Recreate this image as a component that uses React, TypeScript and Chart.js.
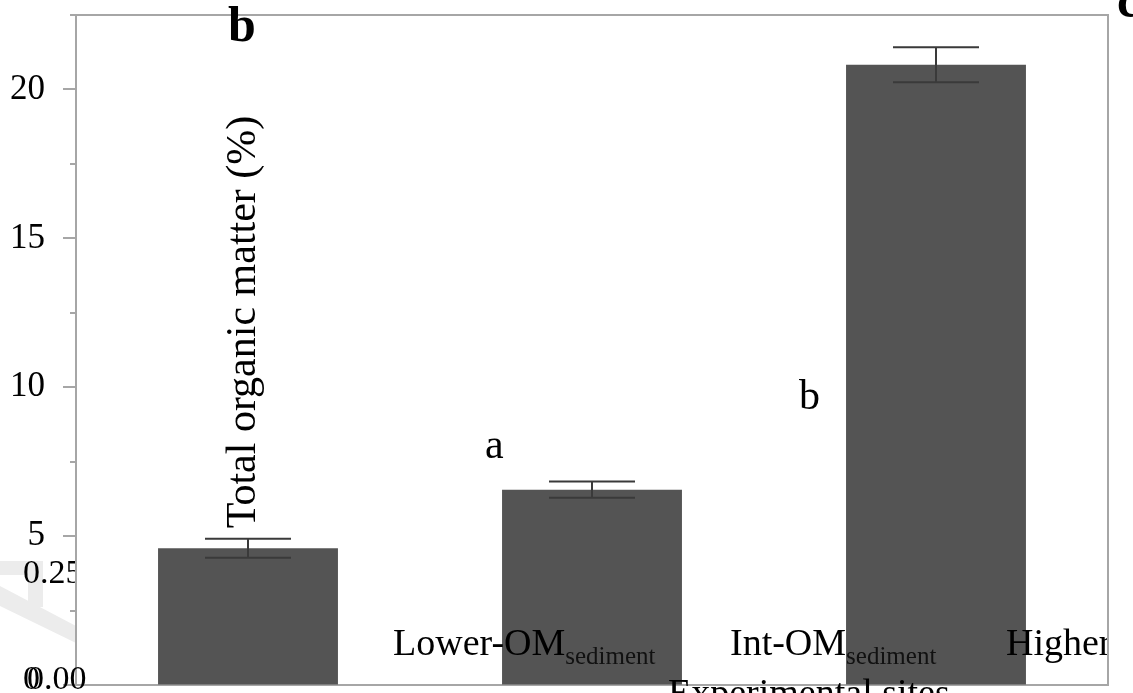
import React, { useEffect, useRef } from 'react';
import { Chart, registerables } from 'chart.js';

Chart.register(...registerables);

// ---- data ----
const categories = ['Lower-OM', 'Int-OM', 'Higher-OM'];
const categorySubscripts = ['sediment', 'sediment', 'sediment'];
const meanValues = [4.59, 6.56, 20.83];
const errorValues = [0.32, 0.27, 0.59];
const significanceLetters = ['b', 'a', 'b', 'c'];
const yAxisTitle = 'Total organic matter (%)';
const xAxisTitle = 'Experimental sites';
const strayTickLabels = ['0.25', '0.00'];

const SERIF = '"Liberation Serif", "Times New Roman", serif';
const AXIS_GRAY = '#a6a6a6';

const overlayPlugin = {
  id: 'overlay',
  beforeDraw(chart: any) {
    const ctx = chart.ctx;
    const left = chart.chartArea.left;
    ctx.save();
    ctx.beginPath();
    ctx.rect(0, 0, left, chart.height);
    ctx.clip();
    ctx.fillStyle = '#ececec';
    ctx.fillRect(0, 561, 43, 14);
    ctx.fillRect(28, 561, 15, 46);
    ctx.beginPath();
    ctx.moveTo(0, 586);
    ctx.lineTo(left, 626);
    ctx.lineTo(left, 643);
    ctx.lineTo(0, 606);
    ctx.closePath();
    ctx.fill();
    ctx.restore();
  },
  afterDatasetsDraw(chart: any) {
    const ctx = chart.ctx;
    const y = chart.scales.y;
    const meta = chart.getDatasetMeta(0);
    ctx.save();
    ctx.strokeStyle = '#3a3a3a';
    ctx.lineWidth = 2;
    meta.data.forEach((bar: any, i: number) => {
      const x = bar.x;
      const top = y.getPixelForValue(meanValues[i] + errorValues[i]);
      const bot = y.getPixelForValue(meanValues[i] - errorValues[i]);
      const cap = 43;
      ctx.beginPath();
      ctx.moveTo(x, top);
      ctx.lineTo(x, bot);
      ctx.moveTo(x - cap, top);
      ctx.lineTo(x + cap, top);
      ctx.moveTo(x - cap, bot);
      ctx.lineTo(x + cap, bot);
      ctx.stroke();
    });
    ctx.restore();
  },
  afterDraw(chart: any) {
    const ctx = chart.ctx;
    const { left, right, top, bottom } = chart.chartArea;
    ctx.save();
    // frame top & right
    ctx.strokeStyle = AXIS_GRAY;
    ctx.lineWidth = 2;
    ctx.beginPath();
    ctx.moveTo(left, top);
    ctx.lineTo(right, top);
    ctx.lineTo(right, bottom);
    ctx.stroke();

    // y tick marks (major & minor)
    const y = chart.scales.y;
    y.ticks.forEach((t: any) => {
      const py = Math.round(y.getPixelForValue(t.value));
      const len = t.value % 5 === 0 ? 13 : 6;
      ctx.beginPath();
      ctx.moveTo(left - len, py);
      ctx.lineTo(left, py);
      ctx.stroke();
    });

    ctx.fillStyle = '#000';
    ctx.textBaseline = 'alphabetic';
    ctx.textAlign = 'left';

    // significance letters
    ctx.font = `bold 50px ${SERIF}`;
    ctx.fillText(significanceLetters[0], 228, 41);
    ctx.font = `42px ${SERIF}`;
    ctx.fillText(significanceLetters[1], 485, 458);
    ctx.fillText(significanceLetters[2], 799, 409);
    ctx.font = `bold 50px ${SERIF}`;
    ctx.fillText(significanceLetters[3], 1117, 17);

    // category labels (clipped at plot right edge)
    const starts = [393, 730, 1006];
    ctx.save();
    ctx.beginPath();
    ctx.rect(0, 0, right - 1, chart.height);
    ctx.clip();
    categories.forEach((c, i) => {
      ctx.font = `38px ${SERIF}`;
      ctx.fillStyle = '#000';
      ctx.fillText(c, starts[i], 655);
      const w = ctx.measureText(c).width;
      ctx.font = `25px ${SERIF}`;
      ctx.fillStyle = '#111';
      ctx.fillText(categorySubscripts[i], starts[i] + w, 664);
    });
    ctx.restore();

    // y axis title
    ctx.save();
    ctx.font = `42px ${SERIF}`;
    ctx.fillStyle = '#000';
    ctx.translate(255, 322);
    ctx.rotate(-Math.PI / 2);
    ctx.textAlign = 'center';
    ctx.fillText(yAxisTitle, 0, 0);
    ctx.restore();

    // x axis title
    ctx.font = `38px ${SERIF}`;
    ctx.fillStyle = '#000';
    ctx.fillText(xAxisTitle, 668, 705);

    // zero tick label (offset left in the original) and stray tick labels
    ctx.font = `34px ${SERIF}`;
    ctx.fillText(String(y.ticks[0].value), 23, 689);
    ctx.save();
    ctx.beginPath();
    ctx.rect(0, 0, left - 1, chart.height);
    ctx.clip();
    ctx.fillText(strayTickLabels[0], 23, 583);
    ctx.restore();
    ctx.fillText(strayTickLabels[1], 27, 689);

    ctx.restore();
  },
};

export default function App() {
  const ref = useRef<HTMLCanvasElement | null>(null);
  useEffect(() => {
    document.body.style.margin = '0';
    const chart = new Chart(ref.current as HTMLCanvasElement, {
      type: 'bar',
      data: {
        labels: categories.map((c, i) => `${c} ${categorySubscripts[i]}`),
        datasets: [
          {
            data: meanValues,
            backgroundColor: '#545454',
            borderWidth: 0,
            categoryPercentage: 1,
            barPercentage: 0.523,
          },
        ],
      },
      options: {
        animation: false,
        responsive: true,
        maintainAspectRatio: false,
        layout: { padding: { left: 0, right: 25, top: 15, bottom: 0 }, autoPadding: false } as any,
        plugins: { legend: { display: false }, tooltip: { enabled: false } },
        scales: {
          x: {
            ticks: { display: false },
            grid: { display: false, drawTicks: false },
            border: { display: true, color: AXIS_GRAY, width: 2 },
            afterFit: (s: any) => {
              s.height = 8;
              s.paddingLeft = 0;
              s.paddingRight = 0;
              s.paddingTop = 0;
              s.paddingBottom = 0;
            },
          },
          y: {
            min: 0,
            max: 22.5,
            ticks: {
              stepSize: 2.5,
              padding: 31,
              color: '#000',
              font: { family: SERIF, size: 35 },
              callback: (v: any) => (Number(v) !== 0 && Number(v) % 5 === 0 ? String(v) : ''),
            },
            grid: { drawOnChartArea: false, drawTicks: false },
            border: { display: true, color: AXIS_GRAY, width: 2 },
            afterFit: (s: any) => {
              s.width = 76;
              s.paddingTop = 0;
              s.paddingBottom = 0;
              s.paddingLeft = 0;
              s.paddingRight = 0;
            },
          },
        },
      },
      plugins: [overlayPlugin],
    });
    return () => chart.destroy();
  }, []);
  return (
    <div style={{ width: 1133, height: 693, position: 'relative' }}>
      <canvas ref={ref} />
    </div>
  );
}
